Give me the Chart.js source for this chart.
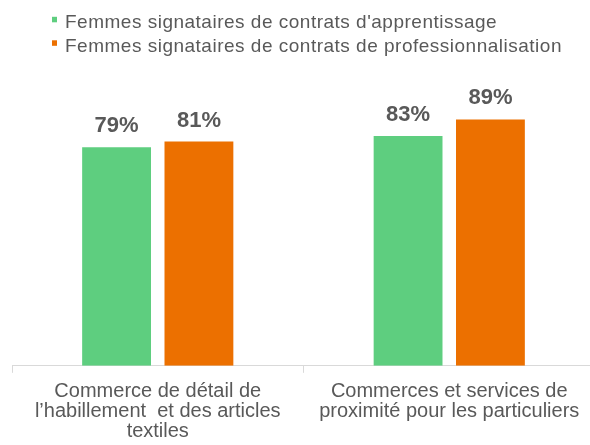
<!DOCTYPE html>
<html>
<head>
<meta charset="utf-8">
<script src="https://cdn.jsdelivr.net/npm/chart.js@4/dist/chart.umd.min.js"></script>
<style>
  html, body { margin: 0; padding: 0; background: #fff; overflow: hidden; }
  #wrap { position: relative; width: 590px; height: 445px; overflow: hidden; }
</style>
</head>
<body>
<div id="wrap"><canvas id="c" width="596" height="453"></canvas></div>
<script>
const categories = [
  ["Commerce de détail de", "l’habillement  et des articles", "textiles"],
  ["Commerces et services de", "proximité pour les particuliers"]
];
const seriesNames = [
  "Femmes signataires de contrats d'apprentissage",
  "Femmes signataires de contrats de professionnalisation"
];
const apprentissage = [79, 83];
const professionnalisation = [81, 89];
const colors = ["#5ECE7F", "#EC7000"];
const textColor = "#595959";
const fontFamily = "'Liberation Sans', Arial, sans-serif";

const legendPlugin = {
  id: 'customLegend',
  afterDraw(chart) {
    const ctx = chart.ctx;
    ctx.save();
    ctx.font = "19px " + fontFamily;
    ctx.letterSpacing = "0.5px";
    ctx.fillStyle = textColor;
    ctx.textBaseline = 'alphabetic';
    ctx.textAlign = 'left';
    const baselines = [28.3, 51.8];
    chart.data.datasets.forEach((ds, i) => {
      const b = baselines[i];
      ctx.fillStyle = ds.backgroundColor;
      ctx.fillRect(52, b - 11.5, 5, 5.5);
      ctx.fillStyle = textColor;
      ctx.fillText(ds.label, 65, b);
    });
    ctx.restore();
  }
};

const valueLabels = {
  id: 'valueLabels',
  afterDatasetsDraw(chart) {
    const ctx = chart.ctx;
    ctx.save();
    ctx.font = "bold 22px " + fontFamily;
    ctx.fillStyle = textColor;
    ctx.textAlign = 'center';
    ctx.textBaseline = 'alphabetic';
    chart.data.datasets.forEach((ds, i) => {
      const meta = chart.getDatasetMeta(i);
      meta.data.forEach((bar, j) => {
        ctx.fillText(ds.data[j] + '%', bar.x, bar.y - 15);
      });
    });
    ctx.restore();
  }
};

new Chart(document.getElementById('c'), {
  type: 'bar',
  data: {
    labels: categories,
    datasets: [
      { label: seriesNames[0], data: apprentissage, backgroundColor: colors[0] },
      { label: seriesNames[1], data: professionnalisation, backgroundColor: colors[1] }
    ]
  },
  options: {
    responsive: false,
    animation: false,
    devicePixelRatio: 1,
    categoryPercentage: 0.565,
    barPercentage: 0.836,
    layout: { padding: { top: 89, left: 12, right: 1, bottom: 3 } },
    plugins: { legend: { display: false }, tooltip: { enabled: false } },
    scales: {
      y: { display: false, min: 0, max: 100 },
      x: {
        offset: true,
        grid: {
          offset: true,
          display: true,
          drawOnChartArea: false,
          drawTicks: true,
          tickLength: 7,
          color: '#D9D9D9',
          lineWidth: 1
        },
        border: { display: true, color: '#D9D9D9', width: 1 },
        ticks: {
          color: textColor,
          padding: 8,
          maxRotation: 0,
          autoSkip: false,
          font: { family: fontFamily, size: 20, lineHeight: 1.02 }
        }
      }
    }
  },
  plugins: [legendPlugin, valueLabels]
});
</script>
</body>
</html>
